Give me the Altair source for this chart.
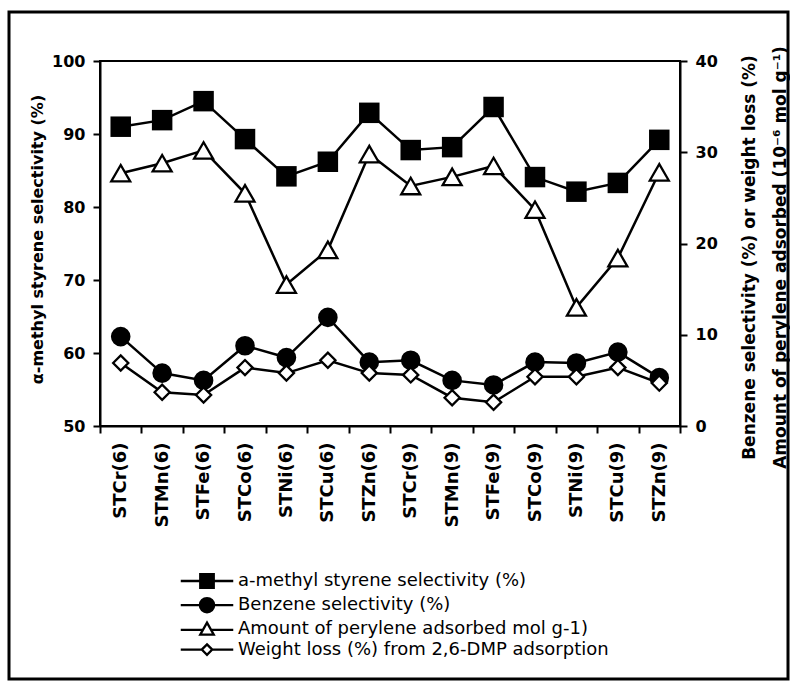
import altair as alt
import pandas as pd

# Catalyst samples along the x axis
samples = ["STCr(6)", "STMn(6)", "STFe(6)", "STCo(6)", "STNi(6)", "STCu(6)", "STZn(6)",
           "STCr(9)", "STMn(9)", "STFe(9)", "STCo(9)", "STNi(9)", "STCu(9)", "STZn(9)"]

# Left axis (%)
ams_selectivity = [91.0, 91.9, 94.5, 89.3, 84.2, 86.2, 92.9, 87.8, 88.2, 93.7, 84.1, 82.1, 83.3, 89.2]
# Right axis
benzene_selectivity = [9.8, 5.8, 5.0, 8.8, 7.5, 11.9, 7.0, 7.2, 5.0, 4.5, 7.0, 6.9, 8.1, 5.3]
perylene_adsorbed = [27.7, 28.8, 30.2, 25.5, 15.5, 19.3, 29.8, 26.3, 27.3, 28.5, 23.7, 13.0, 18.4, 27.8]
weight_loss = [6.9, 3.7, 3.4, 6.4, 5.8, 7.2, 5.8, 5.6, 3.1, 2.6, 5.4, 5.4, 6.4, 4.7]

series_names = [
    "a-methyl styrene selectivity (%)",
    "Benzene selectivity (%)",
    "Amount of perylene adsorbed mol g-1)",
    "Weight loss (%) from 2,6-DMP adsorption",
]

FONT = "DejaVu Sans"

rows = []
for name, vals in zip(series_names,
                      [ams_selectivity, benzene_selectivity, perylene_adsorbed, weight_loss]):
    for s, v in zip(samples, vals):
        rows.append({"sample": s, "series": name, "value": v})
df = pd.DataFrame(rows)

x_enc = alt.X(
    "sample:N", sort=samples,
    scale=alt.Scale(type="band", paddingInner=0, paddingOuter=0),
    axis=alt.Axis(
        title=None, labelAngle=270, labelFont=FONT, labelFontWeight="bold",
        labelFontSize=18, labelColor="black", labelPadding=9,
        tickColor="black", tickSize=7, tickWidth=2, tickBand="extent",
        domainColor="black", domainWidth=2, grid=False,
    ),
)

# ---- left axis: alpha-methyl styrene selectivity
y_left = alt.Y(
    "value:Q",
    scale=alt.Scale(domain=[50, 100], nice=False, zero=False),
    axis=alt.Axis(
        orient="left", values=[50, 60, 70, 80, 90, 100], grid=False,
        title="α-methyl styrene selectivity (%)", titleFont=FONT, titleFontWeight="bold",
        titleFontSize=16, titleColor="black", titleAngle=270, titleAlign="center",
        titleBaseline="top", titleX=-71, titleY=178,
        labelFont=FONT, labelFontWeight="bold", labelFontSize=16, labelColor="black",
        labelPadding=8, tickColor="black", tickSize=7, tickWidth=2,
        domainColor="black", domainWidth=2,
    ),
)

base_left = alt.Chart(df).transform_filter(alt.datum.series == series_names[0])
left_line = base_left.mark_line(color="black", strokeWidth=2.5).encode(x=x_enc, y=y_left)
left_pts = base_left.mark_point(shape="square", filled=True, color="black", size=420, opacity=1).encode(
    x=x_enc, y=y_left)
left = alt.layer(left_line, left_pts)

# ---- right axis: benzene selectivity, perylene adsorbed, weight loss
y_right = alt.Y(
    "value:Q",
    scale=alt.Scale(domain=[0, 40], nice=False),
    axis=alt.Axis(
        orient="right", values=[0, 10, 20, 30, 40], grid=False,
        title=["Benzene selectivity (%) or weight loss (%)",
               "Amount of perylene adsorbed (10⁻⁶ mol g⁻¹)"],
        titleFont=FONT, titleFontWeight="bold", titleFontSize=17, titleColor="black",
        titleAngle=270, titleAlign="center", titleBaseline="top", titleLineHeight=31,
        titleX=61, titleY=196,
        labelFont=FONT, labelFontWeight="bold", labelFontSize=16, labelColor="black",
        labelPadding=8, tickColor="black", tickSize=7, tickWidth=2,
        domainColor="black", domainWidth=2,
    ),
)

base_right = alt.Chart(df).transform_filter(alt.datum.series != series_names[0])
right_lines = base_right.mark_line(color="black", strokeWidth=2.5).encode(
    x=x_enc, y=y_right, detail="series:N")


def right_points(name, shape, fill, size):
    return alt.Chart(df).transform_filter(alt.datum.series == name).mark_point(
        shape=shape, fill=fill, stroke="black", strokeWidth=2.3, size=size, opacity=1,
        fillOpacity=1,
    ).encode(x=x_enc, y=y_right)


right = alt.layer(
    right_lines,
    right_points(series_names[1], "circle", "black", 300),
    right_points(series_names[2], "triangle-up", "white", 360),
    right_points(series_names[3], "diamond", "white", 230),
)

# ---- legend: line-through-marker symbols
legend_paths = [
    "M-3.5,0H-0.9M0.9,0H3.5M-0.9,-0.9H0.9V0.9H-0.9Z",
    "M-3.5,0H-0.95M0.95,0H3.5M-0.95,0A0.95,0.95,0,1,1,0.95,0A0.95,0.95,0,1,1,-0.95,0Z",
    "M-3.5,0.05H-0.6M0.6,0.05H3.5M0,-0.9L0.9,0.7L-0.9,0.7Z",
    "M-3.5,0H-0.7M0.7,0H3.5M0,-0.7L0.7,0L0,0.7L-0.7,0Z",
]
legend_fills = ["black", "black", "white", "white"]
legend_strokes = ["black", "black", "black", "black"]

legend_spec = alt.Legend(
    orient="none", legendX=98, legendY=511, title=None, padding=0,
    labelFont=FONT, labelFontSize=18, labelColor="black", labelOffset=22, labelLimit=0,
    symbolSize=225, symbolStrokeWidth=2.3, symbolStrokeColor="black",
    rowPadding=0.2, direction="vertical",
)

legend_layer = alt.Chart(pd.DataFrame({"series": series_names})).mark_point(
    clip=True, strokeWidth=2, opacity=1
).encode(
    x=alt.value(-2000), y=alt.value(-2000),
    shape=alt.Shape("series:N", scale=alt.Scale(domain=series_names, range=legend_paths),
                    legend=legend_spec),
    fill=alt.Fill("series:N", scale=alt.Scale(domain=series_names, range=legend_fills),
                  legend=legend_spec),
    stroke=alt.Stroke("series:N", scale=alt.Scale(domain=series_names, range=legend_strokes),
                      legend=legend_spec),
)

# ---- outer frame around the figure
frame = alt.Chart(pd.DataFrame({"k": [0]})).mark_rect(
    fill="transparent", stroke="black", strokeWidth=3
).encode(x=alt.value(-91), x2=alt.value(688), y=alt.value(-49), y2=alt.value(618))

chart = alt.layer(left, right, legend_layer, frame).resolve_scale(
    y="independent"
).properties(
    width=580, height=365,
    padding={"left": 100, "top": 61, "right": 110, "bottom": 255},
    autosize=alt.AutoSizeParams(type="none"),
    background="white",
).configure_view(stroke="black", strokeWidth=2)

chart.save("out.html", embed_options={"renderer": "svg", "actions": False})
